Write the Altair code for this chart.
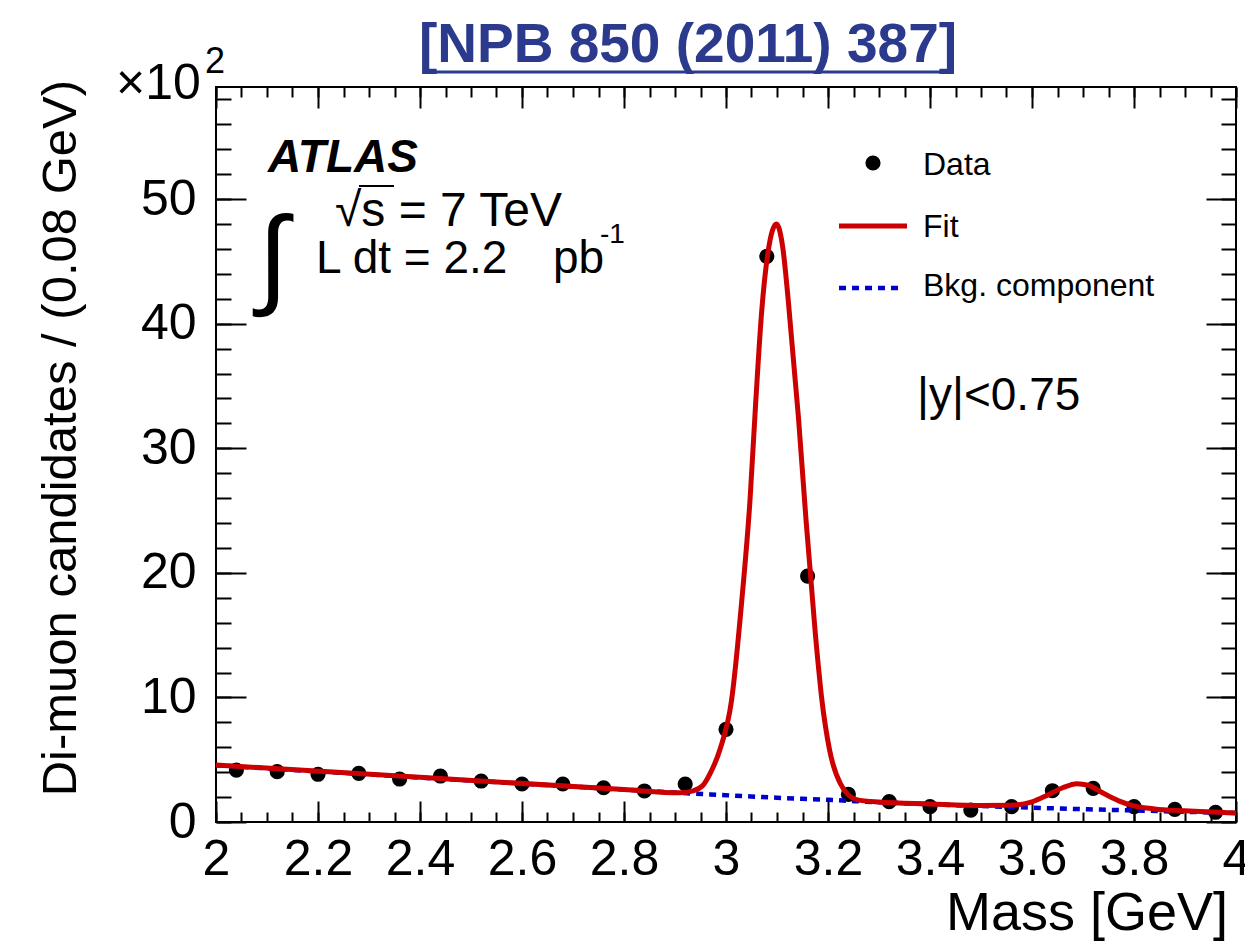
import altair as alt
import pandas as pd

FONT = "Liberation Sans, Arial, Helvetica, sans-serif"

# ---- data (in units of 10^2 candidates / 0.08 GeV) ----
bin_centres = [2.04, 2.12, 2.20, 2.28, 2.36, 2.44, 2.52, 2.60, 2.68, 2.76, 2.84, 2.92,
               3.00, 3.08, 3.16, 3.24, 3.32, 3.40, 3.48, 3.56, 3.64, 3.72, 3.80, 3.88, 3.96]
candidates = [4.17, 4.04, 3.83, 3.91, 3.45, 3.69, 3.29, 3.05, 3.05, 2.75, 2.49, 3.05,
              7.44, 45.4, 19.74, 2.22, 1.63, 1.23, 0.96, 1.23, 2.51, 2.70, 1.23, 1.02, 0.78]

fit_mass = [2.00, 2.40, 2.80, 2.91, 2.935, 2.955, 2.969, 2.988, 3.011, 3.031, 3.047, 3.058,
            3.070, 3.083, 3.099, 3.112, 3.122, 3.142, 3.157, 3.175, 3.188, 3.203, 3.224,
            3.256, 3.30, 3.40, 3.50, 3.56, 3.60, 3.63, 3.66, 3.688, 3.71, 3.74, 3.77, 3.80,
            3.84, 3.90, 4.00]
fit_value = [4.57, 3.59, 2.60, 2.34, 2.50, 2.95, 3.9, 5.8, 9.8, 17.8, 25.8, 33.5,
             41.0, 45.9, 48.0, 45.9, 41.9, 32.5, 24.2, 15.2, 9.8, 5.8, 3.1,
             1.8, 1.6, 1.45, 1.33, 1.35, 1.62, 2.15, 2.75, 3.08, 2.95, 2.3, 1.7, 1.3,
             1.05, 0.9, 0.72]

bkg_mass = [2.0, 2.4, 2.8, 2.91, 3.0, 3.1, 3.2, 3.3, 3.4, 3.5, 3.6, 3.7, 3.8, 3.9, 4.0]
bkg_value = [4.55, 3.57, 2.60, 2.34, 2.15, 1.95, 1.78, 1.58, 1.42, 1.28, 1.15, 1.03, 0.93, 0.82, 0.72]

x_major = [2.0, 2.2, 2.4, 2.6, 2.8, 3.0, 3.2, 3.4, 3.6, 3.8, 4.0]
x_minor = [2.00, 2.05, 2.10, 2.15, 2.20, 2.25, 2.30, 2.35, 2.40, 2.45, 2.50, 2.55, 2.60, 2.65,
           2.70, 2.75, 2.80, 2.85, 2.90, 2.95, 3.00, 3.05, 3.10, 3.15, 3.20, 3.25, 3.30, 3.35,
           3.40, 3.45, 3.50, 3.55, 3.60, 3.65, 3.70, 3.75, 3.80, 3.85, 3.90, 3.95, 4.00]
y_major = [0, 10, 20, 30, 40, 50]
y_minor = [0, 2, 4, 6, 8, 10, 12, 14, 16, 18, 20, 22, 24, 26, 28, 30, 32, 34, 36, 38, 40,
           42, 44, 46, 48, 50, 52, 54, 56, 58]

X_DOMAIN = [2, 4]
Y_DOMAIN = [0, 59]

data_df = pd.DataFrame({"mass": bin_centres, "n": candidates})
fit_df = pd.DataFrame({"mass": fit_mass, "n": fit_value})
bkg_df = pd.DataFrame({"mass": bkg_mass, "n": bkg_value})
one = pd.DataFrame({"k": [0]})


def axis(orient, values, size, labels=False, padding=0):
    kw = dict(orient=orient, values=values, tickSize=size, offset=-size, domain=False,
              grid=False, title=None, ticks=True, tickWidth=2, tickColor="black",
              labels=labels)
    if labels:
        kw.update(labelFont=FONT, labelFontSize=50, labelColor="black", labelFlush=False,
                  labelOverlap=False, labelPadding=padding,
                  labelExpr="format(datum.value, '.1~f')")
    return alt.Axis(**kw)


def xenc(ax):
    return alt.X("mass:Q", scale=alt.Scale(domain=X_DOMAIN, nice=False, zero=False), axis=ax)


def yenc(ax):
    return alt.Y("n:Q", scale=alt.Scale(domain=Y_DOMAIN, nice=False), axis=ax)


points = alt.Chart(data_df).mark_point(filled=True, color="black", size=230, opacity=1).encode(
    x=xenc(axis("bottom", x_major, 21, labels=True, padding=12)),
    y=yenc(axis("left", y_major, 30, labels=True, padding=20)),
)

bkg = alt.Chart(bkg_df).mark_line(color="#0000CC", strokeWidth=4.5, strokeDash=[7, 6],
                                  interpolate="monotone").encode(
    x=xenc(axis("bottom", x_minor, 10)),
    y=yenc(axis("left", y_minor, 15)),
)

fit = alt.Chart(fit_df).mark_line(color="#CC0000", strokeWidth=5, interpolate="monotone").encode(
    x=xenc(axis("top", x_major, 21)),
    y=yenc(axis("right", y_major, 30)),
)

ghost = alt.Chart(data_df).mark_point(opacity=0).encode(
    x=xenc(axis("top", x_minor, 10)),
    y=yenc(axis("right", y_minor, 15)),
)


def label(txt, x, y, size, align="left", baseline="alphabetic", color="black",
          font=FONT, **kw):
    return alt.Chart(one).mark_text(text=txt, align=align, baseline=baseline, fontSize=size,
                                    font=font, color=color, **kw).encode(
        x=alt.value(x), y=alt.value(y))


def rule(x1, x2, y, color, width, dash=None):
    kw = dict(color=color, strokeWidth=width)
    if dash:
        kw["strokeDash"] = dash
    return alt.Chart(one).mark_rule(**kw).encode(x=alt.value(x1), x2=alt.value(x2),
                                                 y=alt.value(y))


annotations = [
    # title
    label("[NPB 850 (2011) 387]", 472, -25, 55, align="center", color="#2B3A8C",
          fontWeight="bold"),
    rule(216, 726, -15, "#2B3A8C", 3),
    # exponent
    label("\u00d710", -100, 12, 50),
    label("2", -11, -14, 36),
    # axis titles
    label("Mass [GeV]", 1012, 843, 54, align="right"),
    label("Di-muon candidates / (0.08 GeV)", -140, -7, 49, align="right", angle=270),
    # ATLAS block
    label("ATLAS", 52, 85, 46, fontWeight="bold", fontStyle="italic"),
    label("\u221as = 7 TeV", 119, 139, 48),
    rule(143, 178, 99, "black", 2),
    label("\u222b", 42, 207, 110),
    label("L dt = 2.2", 100, 186, 46),
    label("pb", 337, 186, 46),
    label("-1", 384, 156, 28),
    # legend
    alt.Chart(one).mark_point(filled=True, color="black", size=230, opacity=1).encode(
        x=alt.value(657), y=alt.value(76)),
    label("Data", 707, 88, 32),
    rule(623, 691, 139, "#CC0000", 5),
    label("Fit", 707, 150, 32),
    rule(623, 688, 201, "#0000CC", 4.5, dash=[7, 6]),
    label("Bkg. component", 707, 209, 32),
    label("|y|<0.75", 701, 323, 46),
]

chart = alt.layer(points, bkg, fit, ghost, *annotations).resolve_scale(
    x="independent", y="independent"
).resolve_axis(x="independent", y="independent").properties(
    width=1020, height=735,
    autosize=alt.AutoSizeParams(type="none"),
    padding={"left": 216, "top": 87, "right": 9, "bottom": 129},
    background="white",
).configure_view(stroke="black", strokeWidth=2)

chart.save("out.html", embed_options={"renderer": "svg", "actions": False})
